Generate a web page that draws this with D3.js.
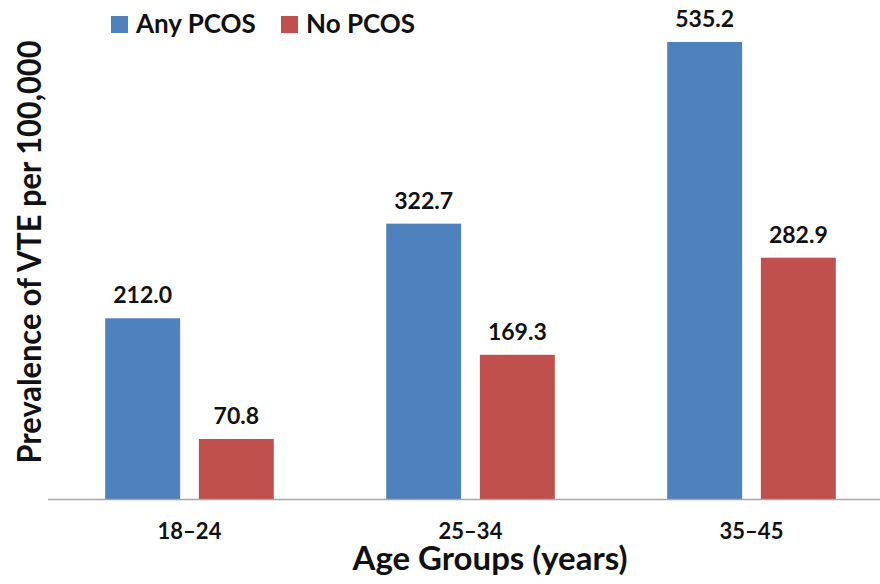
<!DOCTYPE html>
<html>
<head>
<meta charset="utf-8">
<script src="https://cdn.jsdelivr.net/npm/d3@7"></script>
<style>
  html, body { margin: 0; padding: 0; background: #fff; }
  svg { display: block; font-family: Lato, "Open Sans", sans-serif; font-weight: 700; }
</style>
</head>
<body>
<svg id="chart" width="880" height="584"></svg>
<script>
// Prevalence of VTE per 100,000 by age group
const ageGroups = ["18–24", "25–34", "35–45"];
const seriesNames = ["Any PCOS", "No PCOS"];
const anyPcos = [212.0, 322.7, 535.2];
const noPcos = [70.8, 169.3, 282.9];
const seriesColors = ["#4F81BD", "#C0504D"];

const rows = ageGroups.map((g, i) => ({ group: g, values: [anyPcos[i], noPcos[i]] }));

const svg = d3.select("#chart");
const baseY = 499.5;

const x0 = d3.scaleBand().domain(ageGroups).range([49, 892])
  .paddingInner(0.4).paddingOuter(0.2);
const x1 = d3.scaleBand().domain(seriesNames).range([0, x0.bandwidth()]).paddingInner(0.2);
const y = d3.scaleLinear().domain([0, 535.2]).range([baseY, 42]);

// bars and value labels
const groups = svg.selectAll("g.grp").data(rows).join("g")
  .attr("class", "grp")
  .attr("transform", d => `translate(${x0(d.group)},0)`);

groups.selectAll("rect").data(d => d.values.map((v, k) => ({ v, k }))).join("rect")
  .attr("x", d => x1(seriesNames[d.k]))
  .attr("y", d => y(d.v))
  .attr("width", x1.bandwidth())
  .attr("height", d => baseY - y(d.v))
  .attr("fill", d => seriesColors[d.k]);

groups.selectAll("text").data(d => d.values.map((v, k) => ({ v, k }))).join("text")
  .attr("x", d => x1(seriesNames[d.k]) + x1.bandwidth() / 2)
  .attr("y", d => y(d.v) - 15)
  .attr("text-anchor", "middle")
  .attr("font-size", 23)
  .attr("fill", "#111")
  .text(d => d.v.toFixed(1));

// category axis
const xAxis = svg.append("g").attr("transform", `translate(0,${baseY})`)
  .call(d3.axisBottom(x0).tickSize(0));
xAxis.select(".domain").attr("d", "M48,0H880").attr("stroke", "#a6a6a6").attr("stroke-width", 1.5);
xAxis.selectAll("text").attr("y", 39.5).attr("dy", null)
  .attr("font-size", 22).attr("font-family", "Lato, sans-serif")
  .attr("font-weight", 700).attr("fill", "#111");

// axis titles
svg.append("text").attr("x", 490).attr("y", 570).attr("text-anchor", "middle")
  .attr("font-size", 32).attr("fill", "#111")
  .attr("textLength", 275).attr("lengthAdjust", "spacingAndGlyphs")
  .text("Age Groups (years)");
svg.append("text").attr("transform", "translate(41,252) rotate(-90)")
  .attr("text-anchor", "middle").attr("font-size", 32).attr("fill", "#111")
  .attr("textLength", 423).attr("lengthAdjust", "spacingAndGlyphs")
  .text("Prevalence of VTE per 100,000");

// legend
const legendX = [111, 281];
const legend = svg.selectAll("g.leg").data(seriesNames).join("g")
  .attr("class", "leg")
  .attr("transform", (d, i) => `translate(${legendX[i]},16)`);
legend.append("rect").attr("width", 17).attr("height", 17)
  .attr("fill", (d, i) => seriesColors[i]);
legend.append("text").attr("x", 25).attr("y", 17).attr("font-size", 26)
  .attr("fill", "#111").text(d => d);
</script>
</body>
</html>
